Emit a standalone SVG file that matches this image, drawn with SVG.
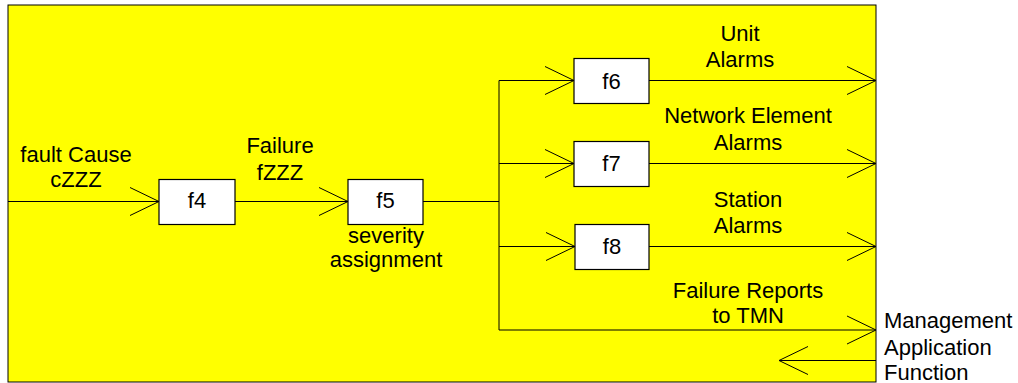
<svg xmlns="http://www.w3.org/2000/svg" width="1018" height="383" viewBox="0 0 1018 383">
<style>
text{font-family:"Liberation Sans",Arial,sans-serif;font-size:22px;fill:#000;text-anchor:middle}
.box{fill:#fff;stroke:#000;stroke-width:1.2}
.ln{fill:none;stroke:#000;stroke-width:1}
.arr{marker-end:url(#chev)}
</style>
<defs>
<marker id="chev" markerUnits="userSpaceOnUse" viewBox="-31 -16 33 32" refX="0" refY="0" markerWidth="33" markerHeight="32" orient="auto" overflow="visible">
<path d="M-29,-14 L0,0 L-29,14" fill="none" stroke="#000" stroke-width="1"/>
</marker>
</defs>
<rect id="frame" x="8" y="5" width="868" height="377" fill="#ffff00" stroke="#000" stroke-width="1"/>
<g id="connectors">
<path class="ln arr" d="M8,201.5 H159"/>
<path class="ln arr" d="M235,201.5 H348"/>
<path class="ln" d="M423,201.5 H499"/>
<path class="ln" d="M499,80.5 V330"/>
<path class="ln arr" d="M499,80.5 H574"/>
<path class="ln arr" d="M499,163.5 H574"/>
<path class="ln arr" d="M499,246.5 H575"/>
<path class="ln arr" d="M649,80.5 H876"/>
<path class="ln arr" d="M649,163.5 H876"/>
<path class="ln arr" d="M649,246.5 H876"/>
<path class="ln arr" d="M499,330 H876"/>
<path class="ln arr" d="M876,360.5 H779"/>
</g>
<g id="labels">
<text x="76" y="162">fault Cause</text>
<text x="76" y="187">cZZZ</text>
<text x="280" y="153">Failure</text>
<text x="280" y="180">fZZZ</text>
<text x="386" y="243">severity</text>
<text x="386" y="267">assignment</text>
<text x="740" y="41">Unit</text>
<text x="740" y="67">Alarms</text>
<text x="748" y="123">Network Element</text>
<text x="748" y="150">Alarms</text>
<text x="748" y="207">Station</text>
<text x="748" y="233">Alarms</text>
<text x="748" y="298">Failure Reports</text>
<text x="748" y="323">to TMN</text>
<text x="884" y="328" style="text-anchor:start">Management</text>
<text x="884" y="355" style="text-anchor:start">Application</text>
<text x="884" y="380" style="text-anchor:start">Function</text>
</g>
<g id="f4"><rect class="box" x="159" y="179.5" width="76" height="45"/><text x="197" y="207.5">f4</text></g>
<g id="f5"><rect class="box" x="348" y="179.5" width="75" height="45"/><text x="385.5" y="207.5">f5</text></g>
<g id="f6"><rect class="box" x="574" y="58.5" width="75" height="45"/><text x="611.5" y="88.5">f6</text></g>
<g id="f7"><rect class="box" x="574" y="141.5" width="75" height="45"/><text x="611.5" y="171">f7</text></g>
<g id="f8"><rect class="box" x="575" y="224.5" width="74" height="45"/><text x="612" y="254">f8</text></g>
</svg>
